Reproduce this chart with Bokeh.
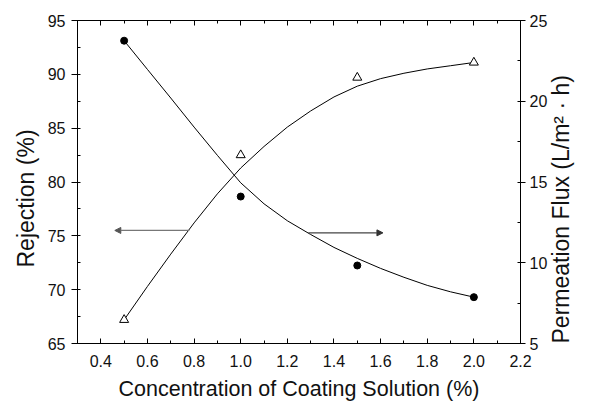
import math
from bokeh.plotting import figure
from bokeh.models import (Range1d, LinearAxis, SingleIntervalTicker, NumeralTickFormatter,
                          CustomJSTickFormatter, Arrow, NormalHead, Title)
from bokeh.embed import file_html
from bokeh.resources import INLINE

# ---- data ----
conc = [0.5, 1.0, 1.5, 2.0]
rejection = [67.2, 82.5, 89.7, 91.1]
flux = [23.75, 14.1, 9.83, 7.87]

fit_x = [0.5, 0.6, 0.7, 0.8, 0.9, 1.0, 1.1, 1.2, 1.3, 1.4, 1.5, 1.6, 1.7, 1.8, 1.9, 2.0]
rejection_fit = [67.2, 70.3, 73.3, 76.2, 78.9, 81.3, 83.3, 85.1, 86.6, 87.9, 88.9, 89.6, 90.1, 90.5, 90.8, 91.1]
flux_fit = [23.75, 21.97, 20.2, 18.4, 16.65, 14.95, 13.65, 12.6, 11.75, 10.95, 10.27, 9.65, 9.1, 8.6, 8.2, 7.87]

# arrows: (x_start, x_end, y)
arrow_rej = (0.78, 0.46, 75.5)
arrow_flux = (1.29, 1.61, 11.85)

x_label = "Concentration of Coating Solution (%)"
y_label = "Rejection (%)"
y2_label = "Permeation Flux (L/m\u00b2 \u00b7 h)"

FONT = "Liberation Sans"
TXT = "#111111"

p = figure(width=590, height=403, x_range=Range1d(0.3, 2.2), y_range=Range1d(65, 95),
           output_backend="svg", toolbar_location=None,
           min_border_left=77, min_border_right=67, min_border_top=20, min_border_bottom=60,
           x_axis_location=None, y_axis_location=None)
p.extra_y_ranges = {"flux": Range1d(5, 25)}
p.xgrid.visible = False
p.ygrid.visible = False
p.outline_line_color = "black"
p.outline_line_width = 1
p.background_fill_color = "white"
p.border_fill_color = "white"


def style(ax, tick_in, tick_out, minor_in, minor_out):
    ax.axis_line_color = "black"
    ax.axis_line_width = 1
    ax.major_tick_line_color = "black"
    ax.minor_tick_line_color = "black"
    ax.major_tick_in = tick_in
    ax.major_tick_out = tick_out
    ax.minor_tick_in = minor_in
    ax.minor_tick_out = minor_out
    ax.major_label_text_font = FONT
    ax.major_label_text_font_size = "16px"
    ax.major_label_text_color = TXT
    ax.axis_label_text_font = FONT
    ax.axis_label_text_font_style = "normal"
    ax.axis_label_text_color = TXT


xb = LinearAxis(ticker=SingleIntervalTicker(interval=0.2, num_minor_ticks=2),
                formatter=NumeralTickFormatter(format="0.0"), axis_label=x_label)
style(xb, 5, 0, 3, 0)
xb.major_label_standoff = 11
xb.axis_label_standoff = 7
xb.axis_label_text_font_size = "21.5px"
xb.axis_label_text_line_height = 0.8
p.add_layout(xb, "below")

xt = LinearAxis(ticker=SingleIntervalTicker(interval=0.2, num_minor_ticks=2),
                formatter=CustomJSTickFormatter(code="return ''"))
style(xt, 5, 0, 3, 0)
xt.major_label_standoff = 0
p.add_layout(xt, "above")

yl = LinearAxis(ticker=SingleIntervalTicker(interval=5, num_minor_ticks=2))
style(yl, 0, 6, 3, 0)
yl.major_label_standoff = 6
p.add_layout(yl, "left")

p.add_layout(Title(text=y_label, align="left", offset=76, standoff=11,
                   text_font=FONT, text_font_size="23px", text_font_style="normal",
                   text_color=TXT), "left")

yr = LinearAxis(y_range_name="flux", ticker=SingleIntervalTicker(interval=5, num_minor_ticks=2),
                axis_label=y2_label)
style(yr, 0, 5, 3, 0)
yr.major_label_standoff = 4
yr.axis_label_standoff = 11
yr.axis_label_text_font_size = "23px"
yr.axis_label_text_line_height = 0.8
yr.axis_label_orientation = math.pi / 2
if "axis_label_align" in yr.properties():
    yr.axis_label_align = "start"
p.add_layout(yr, "right")

# fitted curves
p.line(fit_x, rejection_fit, line_color="black", line_width=1)
p.line(fit_x, flux_fit, line_color="black", line_width=1, y_range_name="flux")

# data points
p.scatter(conc, rejection, marker="triangle", size=9, fill_color="white",
          line_color="black", line_width=1)
p.scatter(conc, flux, marker="circle", size=7, fill_color="black",
          line_color="black", y_range_name="flux")

# arrows
p.add_layout(Arrow(end=NormalHead(size=6, fill_color="#555555", line_color="#555555"),
                   x_start=arrow_rej[0], y_start=arrow_rej[2],
                   x_end=arrow_rej[1], y_end=arrow_rej[2],
                   line_color="#777777", line_width=1.2))
p.add_layout(Arrow(end=NormalHead(size=6, fill_color="#333333", line_color="#333333"),
                   x_start=arrow_flux[0], y_start=arrow_flux[2],
                   x_end=arrow_flux[1], y_end=arrow_flux[2],
                   line_color="#444444", line_width=1.2, y_range_name="flux"))

open("out.html", "w").write(file_html(p, INLINE))
